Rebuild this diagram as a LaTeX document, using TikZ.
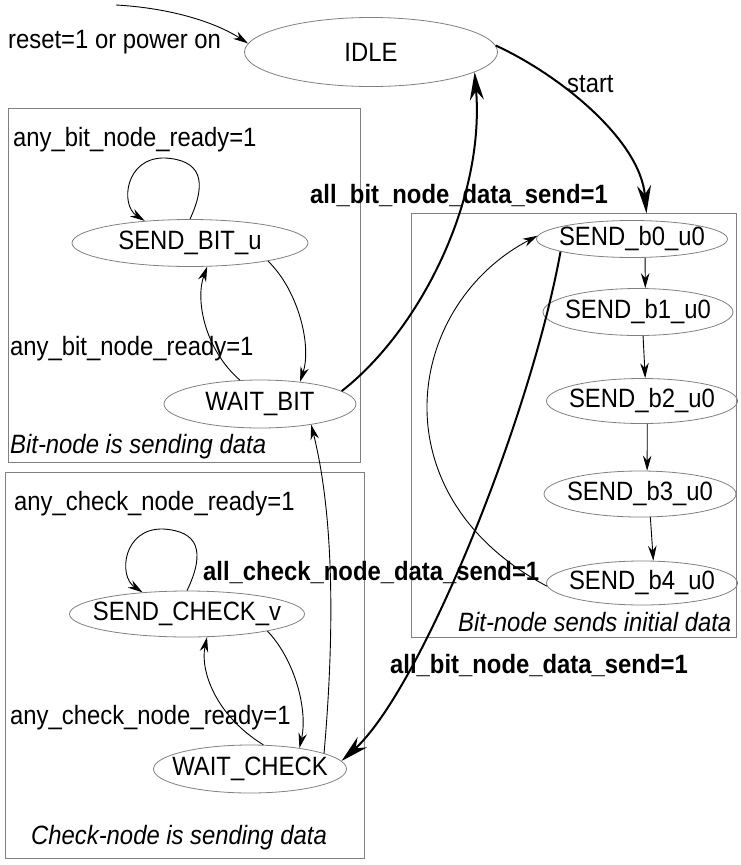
\documentclass[tikz,border=0pt]{standalone}
\usepackage{fontspec}
\setmainfont{Liberation Sans}[FakeStretch=0.9]
\usetikzlibrary{arrows.meta, shapes.geometric}

\begin{document}
\begin{tikzpicture}[
  x=1pt, y=-1pt,
  state/.style={ellipse, draw=gray, line width=0.8pt, inner xsep=-30pt, inner ysep=0pt, font=\fontsize{26.5}{30}\selectfont},
  grp/.style={draw=gray, line width=0.8pt},
  lbl/.style={anchor=west, inner sep=0pt, font=\fontsize{26.5}{30}\selectfont},
  boldlbl/.style={lbl, font=\fontsize{26.5}{30}\selectfont\bfseries},
  itlbl/.style={lbl, font=\fontsize{26.5}{30}\selectfont\itshape},
  arr/.style={draw, line width=0.9pt, -{Stealth[length=15pt, width=8.5pt]}},
  thickarr/.style={draw, line width=2pt, -{Stealth[length=28pt, width=14pt]}}
]
  \useasboundingbox (0,0) rectangle (741,865);

  % Groups
  \draw[grp] (8,108) rectangle (360,462);
  \draw[grp] (411,213) rectangle (736,637);
  \draw[grp] (5,472) rectangle (364,858);

  % Nodes
  \node[state, minimum width=253pt, minimum height=69pt] (idle) at (371,52) {IDLE};
  \node[state, minimum width=236pt, minimum height=47pt] (sendbit) at (190,243) {SEND\_BIT\_u};
  \node[state, minimum width=192pt, minimum height=48pt] (waitbit) at (260,404) {WAIT\_BIT};
  \node[state, minimum width=191pt, minimum height=37pt] (b0) at (632,239) {SEND\_b0\_u0};
  \node[state, minimum width=190pt, minimum height=47pt] (b1) at (638,312) {SEND\_b1\_u0};
  \node[state, minimum width=191pt, minimum height=45pt] (b2) at (642,401) {SEND\_b2\_u0};
  \node[state, minimum width=192pt, minimum height=46pt] (b3) at (640,494) {SEND\_b3\_u0};
  \node[state, minimum width=191pt, minimum height=44pt] (b4) at (642,583) {SEND\_b4\_u0};
  \node[state, minimum width=235pt, minimum height=46pt] (sendcheck) at (187,614) {SEND\_CHECK\_v};
  \node[state, minimum width=193pt, minimum height=48pt] (waitcheck) at (250,769) {WAIT\_CHECK};
  \coordinate (pon) at (116,5);

  % Labels
  \node[lbl] (resetlbl) at (8,42) {reset=1 or power on};
  \node[lbl] (startlbl) at (567,84) {start};
  \node[boldlbl] (allbitup) at (310,196) {all\_bit\_node\_data\_send=1};
  \node[boldlbl] (allbitdown) at (390,666) {all\_bit\_node\_data\_send=1};
  \node[boldlbl] (allcheck) at (203,573) {all\_check\_node\_data\_send=1};
  \node[lbl] (anybitup) at (13,140) {any\_bit\_node\_ready=1};
  \node[lbl] (anybitdown) at (10,349) {any\_bit\_node\_ready=1};
  \node[lbl] (anycheckup) at (14,504) {any\_check\_node\_ready=1};
  \node[lbl] (anycheckdown) at (10,718) {any\_check\_node\_ready=1};
  \node[itlbl] (bitgrp) at (10,447) {Bit-node is sending data};
  \node[itlbl] (initgrp) at (458,622) {Bit-node sends initial data};
  \node[itlbl] (checkgrp) at (31,838) {Check-node is sending data};

  % Flows
  \draw[arr] (pon) .. controls (170,8) and (215,22) .. (idle.176);
  \draw[thickarr, shorten >=7pt] (idle.3) .. controls (560,75) and (640,140) .. (b0.51);
  \draw[thickarr] (waitbit.9) .. controls (420,330) and (485,200) .. (idle.349);
  \draw[thickarr] (b0.190) .. controls (530,420) and (420,690) .. (waitcheck.5);
  \draw[arr] (b4.182) .. controls (375,495) and (405,305) .. (b0.178);
  \draw[arr] (b0.305) -- (b1.73);
  \draw[arr] (b1.282) -- (b2.82);
  \draw[arr] (b2.283) -- (b3.73);
  \draw[arr] (b3.294) -- (b4.63);

  \draw[arr] (sendbit.90) .. controls (208,180) and (200,160) .. (165,158)
    .. controls (125,157) and (120,205) .. (sendbit.154);
  \draw[arr] (waitbit.130) .. controls (205,350) and (195,300) .. (sendbit.306);
  \draw[arr] (sendbit.347) .. controls (298,290) and (312,345) .. (waitbit.29);

  \draw[arr] (sendcheck.90) .. controls (206,551) and (198,531) .. (163,529)
    .. controls (123,528) and (118,576) .. (sendcheck.154);
  \draw[arr] (waitcheck.61) .. controls (215,715) and (200,670) .. (sendcheck.311);
  \draw[arr] (sendcheck.348) .. controls (295,660) and (308,710) .. (waitcheck.23);
  \draw[arr] (waitcheck.12) .. controls (334,640) and (335,520) .. (waitbit.338);
\end{tikzpicture}
\end{document}
